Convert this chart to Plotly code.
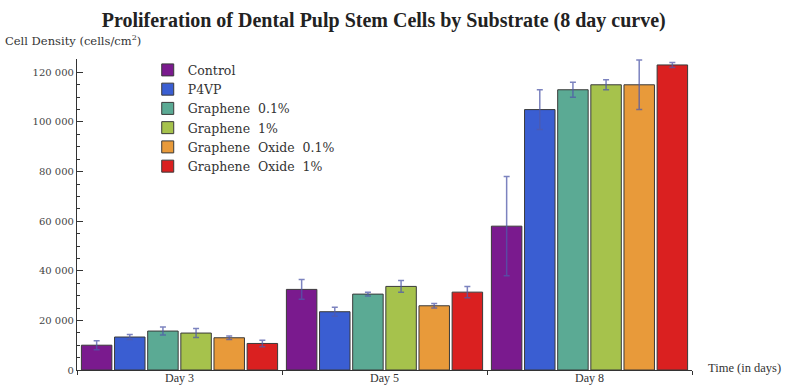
import plotly.graph_objects as go

days = ["Day 3", "Day 5", "Day 8"]
series_names = ["Control", "P4VP", "Graphene\u00a0 0.1%", "Graphene\u00a0 1%",
                "Graphene\u00a0 Oxide\u00a0 0.1%", "Graphene\u00a0 Oxide\u00a0 1%"]
control = [10000, 32500, 58000]
p4vp = [13300, 23500, 105000]
graphene_01 = [15700, 30600, 113000]
graphene_1 = [14900, 33700, 115000]
go_01 = [13000, 25900, 115000]
go_1 = [10700, 31400, 123000]
control_err = [1800, 4000, 20000]
p4vp_err = [1000, 1800, 8000]
graphene_01_err = [1600, 800, 3000]
graphene_1_err = [1800, 2400, 2000]
go_01_err = [700, 900, 10000]
go_1_err = [1300, 2300, 1000]
y_tick_vals = [0, 20000, 40000, 60000, 80000, 100000, 120000]
y_tick_text = ["0", "20 000", "40 000", "60 000", "80 000", "100 000", "120 000"]

values = [control, p4vp, graphene_01, graphene_1, go_01, go_1]
errors = [control_err, p4vp_err, graphene_01_err, graphene_1_err, go_01_err, go_1_err]
colors = ["#7A1A8E", "#3A5ED2", "#5BAA94", "#A6C24C", "#E89A3A", "#DA2020"]

serif = "Liberation Serif, Times New Roman, serif"
wserif = "DejaVu Serif, serif"

fig = go.Figure()
for name, vals, errs, col in zip(series_names, values, errors, colors):
    fig.add_trace(go.Bar(
        name=name, x=days, y=vals, cliponaxis=False,
        marker=dict(color=col, line=dict(color="#3a3a3a", width=1)),
        error_y=dict(type="data", array=errs, visible=True, color="rgba(80,90,170,0.75)",
                     thickness=1.5, width=3),
    ))

fig.update_layout(
    width=788, height=387,
    margin=dict(l=77, r=96, t=59, b=17, autoexpand=False),
    paper_bgcolor="white", plot_bgcolor="white",
    barmode="group", bargap=0.03, bargroupgap=0.08,
    title=dict(text="<b>Proliferation of Dental Pulp Stem Cells by Substrate (8 day curve)</b>",
               x=0.487, xanchor="center", y=0.948, yanchor="middle",
               font=dict(family=serif, size=20, color="#222")),
    font=dict(family=serif, color="#333"),
    legend=dict(x=0.115, y=1.012, xanchor="left", yanchor="top",
                font=dict(family=wserif, size=12.5, color="#333"),
                bgcolor="rgba(0,0,0,0)", tracegroupgap=0, itemwidth=30,
                traceorder="normal"),
    xaxis=dict(showline=True, linecolor="#333", linewidth=1.2, ticks="outside",
               tickson="boundaries", ticklen=4, tickcolor="#333",
               ticklabelstandoff=-4,
               tickfont=dict(family=serif, size=12, color="#333"), showgrid=False),
    yaxis=dict(range=[0, 125400], showline=True, linecolor="#333", linewidth=1.2,
               ticks="inside", ticklen=6, tickcolor="#333",
               tickvals=y_tick_vals, ticktext=y_tick_text,
               minor=dict(dtick=5000, ticks="inside", ticklen=3, tickcolor="#333"),
               tickfont=dict(family=wserif, size=10, color="#444"),
               showgrid=False, zeroline=False),
    annotations=[
        dict(text="Cell Density (cells/cm<sup>2</sup>)", xref="paper", yref="paper",
             x=-0.12, y=1.028, xanchor="left", yanchor="bottom", showarrow=False,
             font=dict(family=wserif, size=11.5, color="#333")),
        dict(text="Time (in days)", xref="paper", yref="paper",
             x=1.022, y=0.005, xanchor="left", yanchor="middle", showarrow=False,
             font=dict(family=serif, size=12.5, color="#333")),
    ],
)

fig.write_html("out.html", config={"displayModeBar": False},
               post_script="document.body.style.margin='0';")
